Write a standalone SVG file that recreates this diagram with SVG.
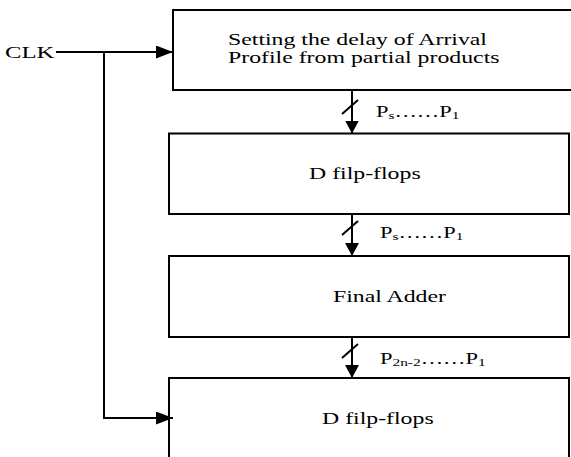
<svg xmlns="http://www.w3.org/2000/svg" width="571" height="457" viewBox="0 0 571 457">
<style>
.box{fill:#fff;stroke:#000;stroke-width:2}
.ln{fill:none;stroke:#000;stroke-width:2}
.t{font-family:"Liberation Serif","Times New Roman",serif;font-size:17px;fill:#000}
.l{font-family:"Liberation Serif","Times New Roman",serif;font-size:16px;fill:#000}
.sub{font-size:11px}
</style>
<defs>
<marker id="ah" markerUnits="userSpaceOnUse" markerWidth="17" markerHeight="13" refX="17" refY="6.5" orient="auto"><path d="M0,0 L17,6.5 L0,13 Z" fill="#000"/></marker>
<marker id="av" markerUnits="userSpaceOnUse" markerWidth="13" markerHeight="14" refX="13" refY="7" orient="auto"><path d="M0,0 L13,7 L0,14 Z" fill="#000"/></marker>
</defs>
<rect width="571" height="457" fill="#fff"/>
<g id="n1"><rect class="box" x="173" y="10" width="420" height="80"/>
<text class="t" transform="translate(228,45) scale(1.4,1)">Setting the delay of Arrival</text>
<text class="t" transform="translate(228,63) scale(1.4,1)">Profile from partial products</text></g>
<g id="n2"><rect class="box" x="169" y="133.5" width="400" height="80.5"/>
<text class="t" transform="translate(309,178.5) scale(1.4,1)">D filp-flops</text></g>
<g id="n3"><rect class="box" x="169" y="256" width="400" height="81"/>
<text class="t" transform="translate(333,301.5) scale(1.4,1)">Final Adder</text></g>
<g id="n4"><rect class="box" x="169" y="378" width="400" height="100"/>
<text class="t" transform="translate(322,424) scale(1.4,1)">D filp-flops</text></g>
<g id="clk"><text class="t" transform="translate(5,57.5) scale(1.45,1)">CLK</text></g>
<g id="connectors">
<path class="ln" d="M56,52 H173" marker-end="url(#ah)"/>
<path class="ln" d="M104,52 V418 H173" marker-end="url(#ah)"/>
<path class="ln" d="M352,90 V133.5" marker-end="url(#av)"/>
<path class="ln" d="M342,114 L358,100"/>
<path class="ln" d="M352,214 V256" marker-end="url(#av)"/>
<path class="ln" d="M342,235 L358,221"/>
<path class="ln" d="M352,337 V378" marker-end="url(#av)"/>
<path class="ln" d="M342,358 L358,344"/>
<text class="l" transform="translate(376,116.5) scale(1.4,1)">P<tspan class="sub" dy="2">s</tspan><tspan dy="-2">……P</tspan><tspan class="sub" dy="2">1</tspan></text>
<text class="l" transform="translate(380,238) scale(1.4,1)">P<tspan class="sub" dy="2">s</tspan><tspan dy="-2">……P</tspan><tspan class="sub" dy="2">1</tspan></text>
<text class="l" transform="translate(380,363.5) scale(1.4,1)">P<tspan class="sub" dy="2">2n-2</tspan><tspan dy="-2">……P</tspan><tspan class="sub" dy="2">1</tspan></text>
</g>
</svg>
